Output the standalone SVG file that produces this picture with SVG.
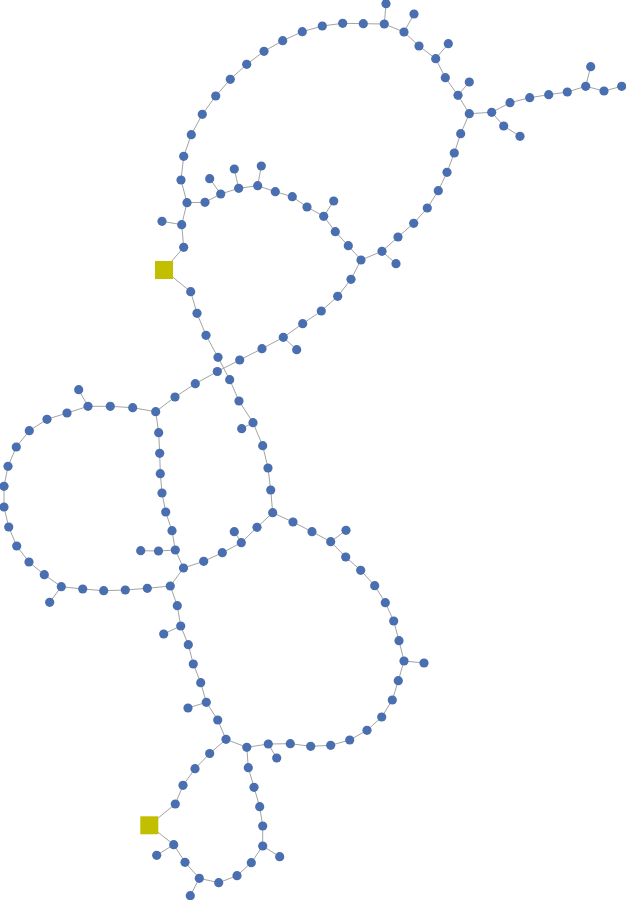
<svg xmlns="http://www.w3.org/2000/svg" width="626" height="900" viewBox="0 0 626 900">
<style>
.e{fill:none;stroke:#a3a3a3;stroke-width:1}
.n circle{fill:#4a6fb0}
.s rect{fill:#c2bf00}
</style>
<rect width="626" height="900" fill="#ffffff"/>
<g id="edges">
<polyline class="e" points="187,202.7 181,180 183.7,156.3 191.3,134.7 202.3,114.3 215.7,96 230.3,79.3 246.7,64.3 264,51.3 282.7,40.7 302.3,31.7 322.3,26 342.7,23.3 363.3,23.7 384.3,24 404,32 419,46 435.7,58.7 445.3,77.7 458,95.3 469.3,113.7 460.7,133.7 454.3,153 447,172.3 438.3,190.7 427.3,208 413.7,223.3 398,237 382,251.3 361,260"/>
<polyline class="e" points="187,202.7 205,202.3 220.7,194 238.7,188.3 257.7,185.7 275.3,191.7 292.3,196.7 307,207 323.7,216.3 335.3,231.7 348.3,245.7 361,260"/>
<polyline class="e" points="469.3,113.7 491.7,112.3 510,102.7 529.7,97.7 548.7,94.7 567.3,92 585.7,86.3 604,91 621.7,86.3"/>
<polyline class="e" points="491.7,112.3 503.7,126 520,136.3"/>
<path class="e" d="M384.3,24L386,3.7M404,32L414,14M435.7,58.7L448.3,43.7M458,95.3L469.3,82M585.7,86.3L590.7,66.7M382,251.3L396,263.7M220.7,194L209.7,178.7M238.7,188.3L234.3,169M257.7,185.7L261.3,166M323.7,216.3L333.7,201M181.7,224.7L162,221.3M253,422.7L241.7,428.7M283.3,337.3L296.7,349.7M88,406.3L78.7,389.7M61.3,586.7L49.7,602.3M241.3,542.7L234.3,531.7M330.7,541.7L346,530.3M404,661L424,663M268.3,744L276.7,758M180.7,626L163.7,634M206.3,702.3L188,708M173.7,844.7L156.7,855.3M199.3,878.3L190.3,895.7M262.7,846L279.7,856.7"/>
<polyline class="e" points="187,202.7 181.7,224.7 183.7,247.3 164,270 190.7,291.7 197,313.3 206,335.3 218,357.3 229.7,379.7 239,401 253,422.7 262.7,445.7 268,468 270.7,490 272.7,512.7"/>
<polyline class="e" points="361,260 351,279.3 337.7,296.3 321.3,311 302.7,323.7 283.3,337.3 262,348.7 239.7,360 217.3,371.5 195.3,383.7 175,397 155.7,411.7"/>
<polyline class="e" points="155.7,411.7 132.7,407.7 110.3,406.3 88,406.3 67,413 47,419.3 29.3,430.7 16.3,447 8,466.3 4,486.3 4,507 8.7,527 16.7,546 29,562 44.3,574.7 61.3,586.7 82.7,589 103.7,590.7 125.3,590 147.3,588.3 170.3,586"/>
<polyline class="e" points="155.7,411.7 158.7,432.7 159.7,453.3 160.3,473.7 162,493 165.7,512 172,530.7 175.3,550 183.5,568 170.3,586"/>
<polyline class="e" points="175.3,550 158.5,551 140.7,550.7"/>
<polyline class="e" points="183.5,568 203.7,561.3 222.3,552.7 241.3,542.7 257,527.3 272.7,512.7"/>
<polyline class="e" points="272.7,512.7 293,522 312,531.7 330.7,541.7 345.7,557 360.7,570.3 374.7,585.7 385.3,602.7 393.7,621 399,640.7 404,661 398.3,680.7 392.3,700 381.7,717 367,730.3 349.7,740 330.7,745.3 310.7,746.3 290.3,743.7 268.3,744 246.8,747.3 226,739.3"/>
<polyline class="e" points="170.3,586 177.3,605.7 180.7,626 188.3,644.7 193.3,664 200.7,682.7 206.3,702.3 217.7,720 226,739.3"/>
<polyline class="e" points="226,739.3 209.7,753.5 195,768.7 183,785.3 175.3,804 149.3,825.3 173.7,844.7 185,862.3 199.3,878.3 218.7,882.7 237,875.7 251.3,862.7 262.7,846 262.7,826 259.7,806.7 254,787.3 248.3,767.7 246.8,747.3"/>
</g>
<g class="s" id="sq1"><rect x="155" y="261" width="18" height="18"/></g>
<g class="s" id="sq2"><rect x="140.3" y="816.3" width="18" height="18"/></g>
<g class="n">
<g id="a1"><circle cx="181" cy="180" r="4.6"/></g>
<g id="a2"><circle cx="183.7" cy="156.3" r="4.6"/></g>
<g id="a3"><circle cx="191.3" cy="134.7" r="4.6"/></g>
<g id="a4"><circle cx="202.3" cy="114.3" r="4.6"/></g>
<g id="a5"><circle cx="215.7" cy="96" r="4.6"/></g>
<g id="a6"><circle cx="230.3" cy="79.3" r="4.6"/></g>
<g id="a7"><circle cx="246.7" cy="64.3" r="4.6"/></g>
<g id="a8"><circle cx="264" cy="51.3" r="4.6"/></g>
<g id="a9"><circle cx="282.7" cy="40.7" r="4.6"/></g>
<g id="a10"><circle cx="302.3" cy="31.7" r="4.6"/></g>
<g id="a11"><circle cx="322.3" cy="26" r="4.6"/></g>
<g id="a12"><circle cx="342.7" cy="23.3" r="4.6"/></g>
<g id="a13"><circle cx="363.3" cy="23.7" r="4.6"/></g>
<g id="a14"><circle cx="384.3" cy="24" r="4.6"/></g>
<g id="p14"><circle cx="386" cy="3.7" r="4.6"/></g>
<g id="a15"><circle cx="404" cy="32" r="4.6"/></g>
<g id="p15"><circle cx="414" cy="14" r="4.6"/></g>
<g id="a16"><circle cx="419" cy="46" r="4.6"/></g>
<g id="a17"><circle cx="435.7" cy="58.7" r="4.6"/></g>
<g id="p17"><circle cx="448.3" cy="43.7" r="4.6"/></g>
<g id="a18"><circle cx="445.3" cy="77.7" r="4.6"/></g>
<g id="a19"><circle cx="458" cy="95.3" r="4.6"/></g>
<g id="p19"><circle cx="469.3" cy="82" r="4.6"/></g>
<g id="a20"><circle cx="469.3" cy="113.7" r="4.6"/></g>
<g id="b1"><circle cx="491.7" cy="112.3" r="4.6"/></g>
<g id="b2"><circle cx="510" cy="102.7" r="4.6"/></g>
<g id="b3"><circle cx="529.7" cy="97.7" r="4.6"/></g>
<g id="b4"><circle cx="548.7" cy="94.7" r="4.6"/></g>
<g id="b5"><circle cx="567.3" cy="92" r="4.6"/></g>
<g id="b6"><circle cx="585.7" cy="86.3" r="4.6"/></g>
<g id="pb6"><circle cx="590.7" cy="66.7" r="4.6"/></g>
<g id="b7"><circle cx="604" cy="91" r="4.6"/></g>
<g id="b8"><circle cx="621.7" cy="86.3" r="4.6"/></g>
<g id="c1"><circle cx="503.7" cy="126" r="4.6"/></g>
<g id="c2"><circle cx="520" cy="136.3" r="4.6"/></g>
<g id="a21"><circle cx="460.7" cy="133.7" r="4.6"/></g>
<g id="a22"><circle cx="454.3" cy="153" r="4.6"/></g>
<g id="a23"><circle cx="447" cy="172.3" r="4.6"/></g>
<g id="a24"><circle cx="438.3" cy="190.7" r="4.6"/></g>
<g id="a25"><circle cx="427.3" cy="208" r="4.6"/></g>
<g id="a26"><circle cx="413.7" cy="223.3" r="4.6"/></g>
<g id="a27"><circle cx="398" cy="237" r="4.6"/></g>
<g id="a28"><circle cx="382" cy="251.3" r="4.6"/></g>
<g id="p28"><circle cx="396" cy="263.7" r="4.6"/></g>
<g id="J"><circle cx="361" cy="260" r="4.6"/></g>
<g id="d0"><circle cx="187" cy="202.7" r="4.6"/></g>
<g id="d1"><circle cx="205" cy="202.3" r="4.6"/></g>
<g id="d2"><circle cx="220.7" cy="194" r="4.6"/></g>
<g id="pd2"><circle cx="209.7" cy="178.7" r="4.6"/></g>
<g id="d3"><circle cx="238.7" cy="188.3" r="4.6"/></g>
<g id="pd3"><circle cx="234.3" cy="169" r="4.6"/></g>
<g id="d4"><circle cx="257.7" cy="185.7" r="4.6"/></g>
<g id="pd4"><circle cx="261.3" cy="166" r="4.6"/></g>
<g id="d5"><circle cx="275.3" cy="191.7" r="4.6"/></g>
<g id="d6"><circle cx="292.3" cy="196.7" r="4.6"/></g>
<g id="d7"><circle cx="307" cy="207" r="4.6"/></g>
<g id="d8"><circle cx="323.7" cy="216.3" r="4.6"/></g>
<g id="pd8"><circle cx="333.7" cy="201" r="4.6"/></g>
<g id="d9"><circle cx="335.3" cy="231.7" r="4.6"/></g>
<g id="d10"><circle cx="348.3" cy="245.7" r="4.6"/></g>
<g id="e1"><circle cx="181.7" cy="224.7" r="4.6"/></g>
<g id="pe1"><circle cx="162" cy="221.3" r="4.6"/></g>
<g id="e2"><circle cx="183.7" cy="247.3" r="4.6"/></g>
<g id="f1"><circle cx="190.7" cy="291.7" r="4.6"/></g>
<g id="f2"><circle cx="197" cy="313.3" r="4.6"/></g>
<g id="f3"><circle cx="206" cy="335.3" r="4.6"/></g>
<g id="f4"><circle cx="218" cy="357.3" r="4.6"/></g>
<g id="f5"><circle cx="229.7" cy="379.7" r="4.6"/></g>
<g id="f6"><circle cx="239" cy="401" r="4.6"/></g>
<g id="f7"><circle cx="253" cy="422.7" r="4.6"/></g>
<g id="pf7"><circle cx="241.7" cy="428.7" r="4.6"/></g>
<g id="f8"><circle cx="262.7" cy="445.7" r="4.6"/></g>
<g id="f9"><circle cx="268" cy="468" r="4.6"/></g>
<g id="f10"><circle cx="270.7" cy="490" r="4.6"/></g>
<g id="K"><circle cx="272.7" cy="512.7" r="4.6"/></g>
<g id="g1"><circle cx="351" cy="279.3" r="4.6"/></g>
<g id="g2"><circle cx="337.7" cy="296.3" r="4.6"/></g>
<g id="g3"><circle cx="321.3" cy="311" r="4.6"/></g>
<g id="g4"><circle cx="302.7" cy="323.7" r="4.6"/></g>
<g id="g5"><circle cx="283.3" cy="337.3" r="4.6"/></g>
<g id="pg5"><circle cx="296.7" cy="349.7" r="4.6"/></g>
<g id="g6"><circle cx="262" cy="348.7" r="4.6"/></g>
<g id="g7"><circle cx="239.7" cy="360" r="4.6"/></g>
<g id="g8"><circle cx="217.3" cy="371.5" r="4.6"/></g>
<g id="g9"><circle cx="195.3" cy="383.7" r="4.6"/></g>
<g id="g10"><circle cx="175" cy="397" r="4.6"/></g>
<g id="L"><circle cx="155.7" cy="411.7" r="4.6"/></g>
<g id="h1"><circle cx="132.7" cy="407.7" r="4.6"/></g>
<g id="h2"><circle cx="110.3" cy="406.3" r="4.6"/></g>
<g id="h3"><circle cx="88" cy="406.3" r="4.6"/></g>
<g id="ph3"><circle cx="78.7" cy="389.7" r="4.6"/></g>
<g id="h4"><circle cx="67" cy="413" r="4.6"/></g>
<g id="h5"><circle cx="47" cy="419.3" r="4.6"/></g>
<g id="h6"><circle cx="29.3" cy="430.7" r="4.6"/></g>
<g id="h7"><circle cx="16.3" cy="447" r="4.6"/></g>
<g id="h8"><circle cx="8" cy="466.3" r="4.6"/></g>
<g id="h9"><circle cx="4" cy="486.3" r="4.6"/></g>
<g id="h10"><circle cx="4" cy="507" r="4.6"/></g>
<g id="h11"><circle cx="8.7" cy="527" r="4.6"/></g>
<g id="h12"><circle cx="16.7" cy="546" r="4.6"/></g>
<g id="h13"><circle cx="29" cy="562" r="4.6"/></g>
<g id="h14"><circle cx="44.3" cy="574.7" r="4.6"/></g>
<g id="h15"><circle cx="61.3" cy="586.7" r="4.6"/></g>
<g id="ph15"><circle cx="49.7" cy="602.3" r="4.6"/></g>
<g id="h16"><circle cx="82.7" cy="589" r="4.6"/></g>
<g id="h17"><circle cx="103.7" cy="590.7" r="4.6"/></g>
<g id="h18"><circle cx="125.3" cy="590" r="4.6"/></g>
<g id="h19"><circle cx="147.3" cy="588.3" r="4.6"/></g>
<g id="M"><circle cx="170.3" cy="586" r="4.6"/></g>
<g id="i1"><circle cx="158.7" cy="432.7" r="4.6"/></g>
<g id="i2"><circle cx="159.7" cy="453.3" r="4.6"/></g>
<g id="i3"><circle cx="160.3" cy="473.7" r="4.6"/></g>
<g id="i4"><circle cx="162" cy="493" r="4.6"/></g>
<g id="i5"><circle cx="165.7" cy="512" r="4.6"/></g>
<g id="i6"><circle cx="172" cy="530.7" r="4.6"/></g>
<g id="i7"><circle cx="175.3" cy="550" r="4.6"/></g>
<g id="i7a"><circle cx="158.5" cy="551" r="4.6"/></g>
<g id="i7b"><circle cx="140.7" cy="550.7" r="4.6"/></g>
<g id="N"><circle cx="183.5" cy="568" r="4.6"/></g>
<g id="j1"><circle cx="203.7" cy="561.3" r="4.6"/></g>
<g id="j2"><circle cx="222.3" cy="552.7" r="4.6"/></g>
<g id="j3"><circle cx="241.3" cy="542.7" r="4.6"/></g>
<g id="pj3"><circle cx="234.3" cy="531.7" r="4.6"/></g>
<g id="j4"><circle cx="257" cy="527.3" r="4.6"/></g>
<g id="k1"><circle cx="293" cy="522" r="4.6"/></g>
<g id="k2"><circle cx="312" cy="531.7" r="4.6"/></g>
<g id="k3"><circle cx="330.7" cy="541.7" r="4.6"/></g>
<g id="pk3"><circle cx="346" cy="530.3" r="4.6"/></g>
<g id="k4"><circle cx="345.7" cy="557" r="4.6"/></g>
<g id="k5"><circle cx="360.7" cy="570.3" r="4.6"/></g>
<g id="k6"><circle cx="374.7" cy="585.7" r="4.6"/></g>
<g id="k7"><circle cx="385.3" cy="602.7" r="4.6"/></g>
<g id="k8"><circle cx="393.7" cy="621" r="4.6"/></g>
<g id="k9"><circle cx="399" cy="640.7" r="4.6"/></g>
<g id="k10"><circle cx="404" cy="661" r="4.6"/></g>
<g id="pk10"><circle cx="424" cy="663" r="4.6"/></g>
<g id="k11"><circle cx="398.3" cy="680.7" r="4.6"/></g>
<g id="k12"><circle cx="392.3" cy="700" r="4.6"/></g>
<g id="k13"><circle cx="381.7" cy="717" r="4.6"/></g>
<g id="k14"><circle cx="367" cy="730.3" r="4.6"/></g>
<g id="k15"><circle cx="349.7" cy="740" r="4.6"/></g>
<g id="k16"><circle cx="330.7" cy="745.3" r="4.6"/></g>
<g id="k17"><circle cx="310.7" cy="746.3" r="4.6"/></g>
<g id="k18"><circle cx="290.3" cy="743.7" r="4.6"/></g>
<g id="k19"><circle cx="268.3" cy="744" r="4.6"/></g>
<g id="pk19"><circle cx="276.7" cy="758" r="4.6"/></g>
<g id="P"><circle cx="246.8" cy="747.3" r="4.6"/></g>
<g id="m1"><circle cx="177.3" cy="605.7" r="4.6"/></g>
<g id="m2"><circle cx="180.7" cy="626" r="4.6"/></g>
<g id="pm2"><circle cx="163.7" cy="634" r="4.6"/></g>
<g id="m3"><circle cx="188.3" cy="644.7" r="4.6"/></g>
<g id="m4"><circle cx="193.3" cy="664" r="4.6"/></g>
<g id="m5"><circle cx="200.7" cy="682.7" r="4.6"/></g>
<g id="m6"><circle cx="206.3" cy="702.3" r="4.6"/></g>
<g id="pm6"><circle cx="188" cy="708" r="4.6"/></g>
<g id="m7"><circle cx="217.7" cy="720" r="4.6"/></g>
<g id="Q"><circle cx="226" cy="739.3" r="4.6"/></g>
<g id="n1"><circle cx="209.7" cy="753.5" r="4.6"/></g>
<g id="n2"><circle cx="195" cy="768.7" r="4.6"/></g>
<g id="n3"><circle cx="183" cy="785.3" r="4.6"/></g>
<g id="n4"><circle cx="175.3" cy="804" r="4.6"/></g>
<g id="o1"><circle cx="173.7" cy="844.7" r="4.6"/></g>
<g id="po1"><circle cx="156.7" cy="855.3" r="4.6"/></g>
<g id="o2"><circle cx="185" cy="862.3" r="4.6"/></g>
<g id="o3"><circle cx="199.3" cy="878.3" r="4.6"/></g>
<g id="po3"><circle cx="190.3" cy="895.7" r="4.6"/></g>
<g id="o4"><circle cx="218.7" cy="882.7" r="4.6"/></g>
<g id="o5"><circle cx="237" cy="875.7" r="4.6"/></g>
<g id="o6"><circle cx="251.3" cy="862.7" r="4.6"/></g>
<g id="o7"><circle cx="262.7" cy="846" r="4.6"/></g>
<g id="po7"><circle cx="279.7" cy="856.7" r="4.6"/></g>
<g id="o8"><circle cx="262.7" cy="826" r="4.6"/></g>
<g id="o9"><circle cx="259.7" cy="806.7" r="4.6"/></g>
<g id="o10"><circle cx="254" cy="787.3" r="4.6"/></g>
<g id="o11"><circle cx="248.3" cy="767.7" r="4.6"/></g>
</g>
</svg>
